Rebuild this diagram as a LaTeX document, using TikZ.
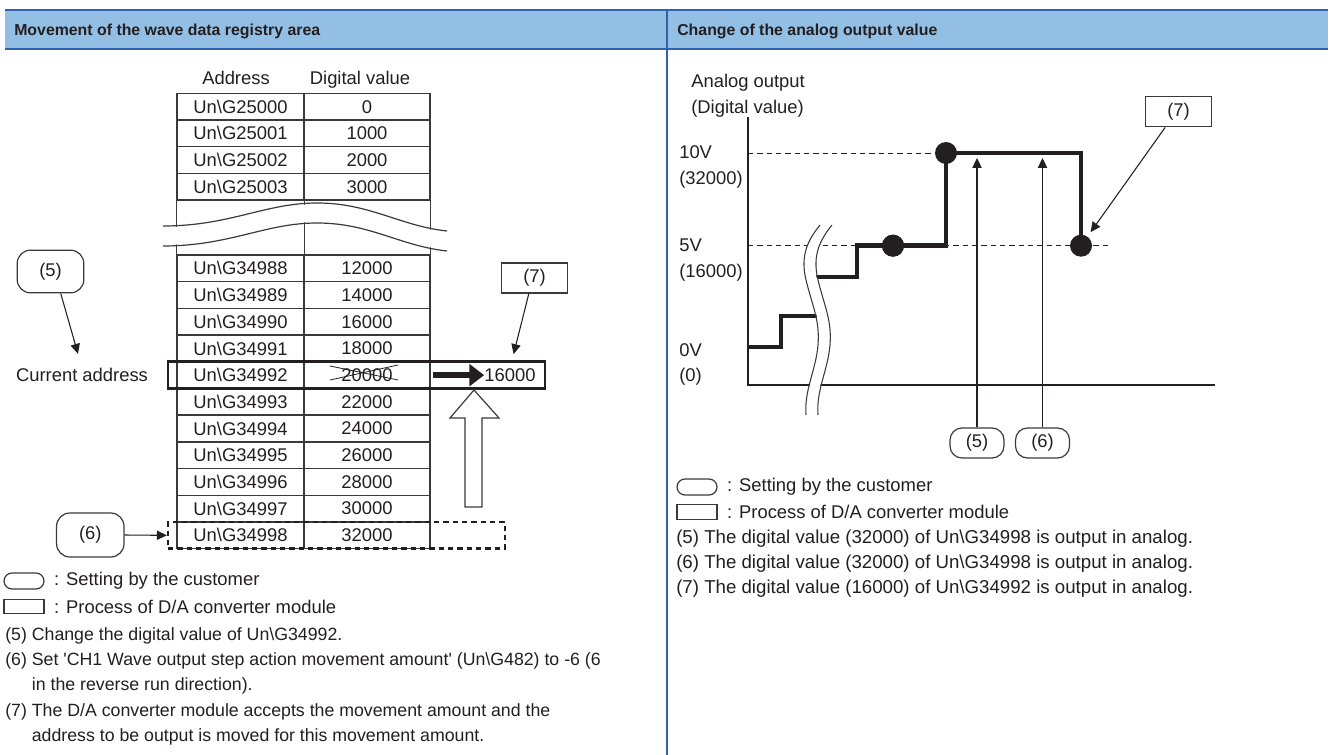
\documentclass[tikz,border=0pt]{standalone}
\usepackage{fontspec}
\setmainfont{Liberation Sans}
\usetikzlibrary{arrows.meta,positioning}
\definecolor{WaveHeadFill}{HTML}{93BFE5}
\definecolor{WaveHeadLine}{HTML}{2F62AE}
\definecolor{WaveGrid}{HTML}{3A3A3A}
\definecolor{WaveInk}{HTML}{231F20}
\newcommand{\waveFont}{\fontsize{13.8}{19}\selectfont}
\newcommand{\waveHeadFont}{\bfseries\fontsize{11.9}{14}\selectfont}
\newcommand{\unG}{Un\textbackslash G}
\tikzset{
  cell/.style={draw=WaveGrid, line width=1.1pt, minimum height=20pt,
    inner sep=0pt, font=\waveFont, text=WaveInk},
  addrcell/.style={cell, minimum width=95.25pt},
  valcell/.style={cell, minimum width=94.5pt},
  txt/.style={inner sep=0pt, font=\waveFont, text=WaveInk},
  setbox/.style={draw=WaveGrid, line width=0.9pt, rounded corners=10pt,
    inner sep=0pt, font=\waveFont, text=WaveInk},
  procbox/.style={draw=WaveGrid, line width=0.9pt, inner sep=0pt,
    font=\waveFont, text=WaveInk},
  ptr/.style={-{Triangle[length=7.5pt,width=7pt]}, WaveInk, line width=0.8pt},
  fatptr/.style={-{Triangle[length=11pt,width=16pt]}, WaveInk, line width=4.5pt},
  stepline/.style={WaveInk, line width=3.4pt},
  guide/.style={WaveInk, line width=0.6pt, dash pattern=on 4pt off 3pt},
  dot/.style={circle, fill=WaveInk, minimum size=16.5pt, inner sep=0pt}
}
\begin{document}
\begin{tikzpicture}[x=0.75pt,y=-0.75pt]

        \useasboundingbox (0,0) rectangle (1330,755);

        \fill[WaveHeadFill] (5,10) rectangle (1328,49);

        \draw[WaveHeadLine,line width=1.5pt] (5,10) -- (1328,10);

        \draw[WaveHeadLine,line width=1.5pt] (5,49) -- (1328,49);

        \draw[WaveHeadLine,line width=1.5pt] (667,10) -- (667,755);

        \node[anchor=base west,inner sep=0pt,font=\waveHeadFont,text=WaveInk]
          (headL) at (14,36) {Movement of the wave data registry area};

        \node[anchor=base west,inner sep=0pt,font=\waveHeadFont,text=WaveInk]
          (headR) at (677,36) {Change of the analog output value};

        \node[txt,anchor=base] (colAddr) at (236,85) {Address};

        \node[txt,anchor=base] (colVal) at (360,85) {Digital value};

        \foreach \a/\v [count=\i from 0] in
          {25000/0,25001/1000,25002/2000,25003/3000} {
          \node[addrcell] (top\i) at (240.5,{106.7+26.7*\i}) {\unG\a};
          \node[valcell] (topv\i) at (367,{106.7+26.7*\i}) {\v};
        }

        \draw[WaveGrid,line width=1.1pt] (top3.south west) -- ++(0,55);

        \draw[WaveGrid,line width=1.1pt] (top3.south east) -- ++(0,55);

        \draw[WaveGrid,line width=1.1pt] (topv3.south east) -- ++(0,55);

        \draw[white,line width=13pt,shift={(0,10)}]
          (163,226) .. controls (230,226) and (265,203) .. (317,203)
          .. controls (370,203) and (400,226) .. (447,231);

        \foreach \dy in {0,20}
          \draw[WaveGrid,line width=0.9pt,shift={(0,\dy)}]
            (163,226) .. controls (230,226) and (265,203) .. (317,203)
            .. controls (370,203) and (400,226) .. (447,231);

        \foreach \a/\v [count=\i from 0] in
          {34988/12000,34989/14000,34990/16000,34991/18000,34992/20000,
           34993/22000,34994/24000,34995/26000,34996/28000,34997/30000,
           34998/32000} {
          \node[addrcell] (row\i) at (240.5,{268.35+26.7*\i}) {\unG\a};
          \node[valcell] (rowv\i) at (367,{268.35+26.7*\i}) {\v};
        }

        \draw[WaveInk,line width=0.6pt] (330,380) -- (398,365);

        \draw[WaveInk,line width=0.6pt] (330,366) -- (398,380);

        \draw[WaveInk,line width=2pt] (168,361.8) rectangle (545,388.5);

        \node[draw=WaveInk,line width=1.8pt,dash pattern=on 4pt off 3pt,
          minimum width=252.75pt,minimum height=20pt,inner sep=0pt]
          (pick) at (336.5,535.35) {};

        \node[txt] (out) at (510,375.15) {16000};

        \draw[fatptr] ([xshift=2pt]rowv4.east) -- (out.west);

        \draw[WaveGrid,line width=0.9pt,fill=white]
          (474,390) -- (499,418) -- (482,418) -- (482,507)
          -- (465,507) -- (465,418) -- (450,418) -- cycle;

        \node[setbox,minimum width=50pt,minimum height=32pt]
          (set5) at (50.5,271.5) {(5)};

        \node[txt] (curaddr) at (82,375) {Current address};

        \draw[ptr,shorten >=11pt] (set5.-65) -- (curaddr.north);

        \node[procbox,minimum width=50pt,minimum height=22.5pt]
          (proc7) at (534.5,278) {(7)};

        \draw[ptr,shorten >=11pt] (proc7.-110) -- (out.north);

        \node[setbox,minimum width=50.6pt,minimum height=33pt]
          (set6) at (90.3,535) {(6)};

        \draw[ptr] (set6.east) -- (pick.west);

        \node[setbox,rounded corners=6pt,minimum width=30pt,minimum height=12pt]
          (keySetL) at (24,581) {};

        \node[txt,right=7pt of keySetL] (keySetTxtL) {: Setting by the customer};

        \node[procbox,minimum width=30pt,minimum height=11pt]
          (keyProcL) at (24,606.5) {};

        \node[txt,right=7pt of keyProcL] (keyProcTxtL)
          {: Process of D/A converter module};

        \node[txt,anchor=base west,font=\fontsize{13.3}{19}\selectfont]
          (notesL) at (5,640)
          {\begin{tabular}[t]{@{}l@{\ }l@{}}
           (5) & Change the digital value of \unG 34992.\\
           (6) & Set \textquotesingle CH1 Wave output step action movement
                 amount\textquotesingle{} (\unG 482) to -6 (6\\
               & in the reverse run direction).\\
           (7) & The D/A converter module accepts the movement amount and the\\
               & address to be output is moved for this movement amount.
           \end{tabular}};

        \node[txt,anchor=base west] (yLabel) at (691,88)
          {\begin{tabular}[t]{@{}l@{}}Analog output\\(Digital value)\end{tabular}};

        \node[txt,anchor=base west] (lvl10) at (679,159)
          {\begin{tabular}[t]{@{}l@{}}10V\\(32000)\end{tabular}};

        \node[txt,anchor=base west] (lvl5) at (679,251.7)
          {\begin{tabular}[t]{@{}l@{}}5V\\(16000)\end{tabular}};

        \node[txt,anchor=base west] (lvl0) at (679,356)
          {\begin{tabular}[t]{@{}l@{}}0V\\(0)\end{tabular}};

        \draw[WaveInk,line width=0.8pt] (748,117) -- (748,385) -- (1215,385);

        \node[dot] (d1) at (893,245.7) {};

        \node[dot] (d2) at (946,153) {};

        \node[dot] (d3) at (1081,245.7) {};

        \draw[guide] (748,153) -- (d2.west);

        \draw[guide] (748,245.7) -- (1111,245.7);

        \draw[stepline] (748,347) -- (781,347) -- (781,316) -- (822,316);

        \draw[stepline] (810,277) -- (857,277) -- (857,245.7) -- (946,245.7)
          -- (946,153) -- (1081,153) -- (1081,245.7);

        \draw[white,line width=7.5pt,shift={(6,0)}]
          (820,225) .. controls (808,240) and (800,255) .. (806,280)
          .. controls (812,305) and (820,320) .. (818,345)
          .. controls (816,370) and (804,390) .. (806,415);

        \foreach \dx in {0,12}
          \draw[WaveGrid,line width=0.8pt,shift={(\dx,0)}]
            (820,225) .. controls (808,240) and (800,255) .. (806,280)
            .. controls (812,305) and (820,320) .. (818,345)
            .. controls (816,370) and (804,390) .. (806,415);

        \node[dot] (d1b) at (893,245.7) {};

        \node[setbox,rounded corners=9pt,minimum width=40.5pt,minimum height=22.5pt]
          (set5r) at (977,443) {(5)};

        \node[setbox,rounded corners=9pt,minimum width=40.5pt,minimum height=22.5pt]
          (set6r) at (1042.5,443) {(6)};

        \coordinate (tip5) at (977,158);

        \coordinate (tip6) at (1042.5,158);

        \draw[ptr] (set5r.north) -- (tip5);

        \draw[ptr] (set6r.north) -- (tip6);

        \node[procbox,minimum width=50pt,minimum height=23pt]
          (proc7r) at (1178.5,111.5) {(7)};

        \draw[ptr,shorten >=4pt] (proc7r.-130) -- (d3);

        \node[setbox,rounded corners=6pt,minimum width=30pt,minimum height=12pt]
          (keySetR) at (697,487) {};

        \node[txt,right=7pt of keySetR] (keySetTxtR) {: Setting by the customer};

        \node[procbox,minimum width=30pt,minimum height=11pt]
          (keyProcR) at (697,512) {};

        \node[txt,right=7pt of keyProcR] (keyProcTxtR)
          {: Process of D/A converter module};

        \node[txt,anchor=base west,font=\fontsize{14}{19}\selectfont]
          (notesR) at (676,543)
          {\begin{tabular}[t]{@{}l@{\ }l@{}}
           (5) & The digital value (32000) of \unG 34998 is output in analog.\\
           (6) & The digital value (32000) of \unG 34998 is output in analog.\\
           (7) & The digital value (16000) of \unG 34992 is output in analog.
           \end{tabular}};

      \end{tikzpicture}
\end{document}
